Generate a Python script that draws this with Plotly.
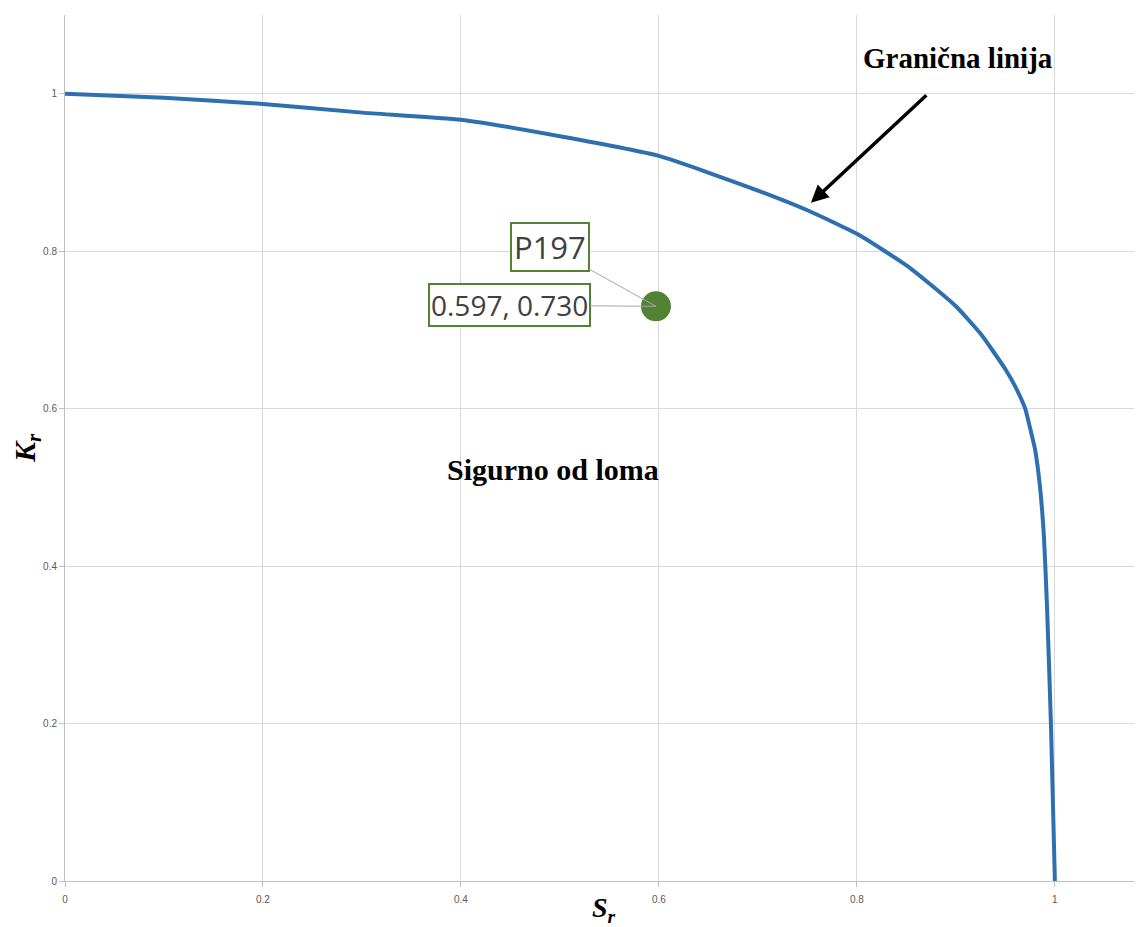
import plotly.graph_objects as go

# Boundary line (Granična linija)
sr_curve = [0, 0.1, 0.2, 0.3, 0.4, 0.5, 0.6, 0.7, 0.75, 0.8, 0.85, 0.875, 0.9, 0.925, 0.95, 0.96,
            0.97, 0.975, 0.98, 0.985, 0.989, 0.992, 0.996, 1.0]
kr_curve = [1.0, 0.995, 0.987, 0.976, 0.967, 0.946, 0.921, 0.877, 0.852, 0.822, 0.782, 0.757, 0.73, 0.695, 0.650, 0.628,
            0.600, 0.575, 0.548, 0.50, 0.436, 0.35, 0.2, 0.0]

# Assessed point
point_name = "P197"
point_sr = [0.597]
point_kr = [0.730]

x_ticks = [0, 0.2, 0.4, 0.6, 0.8, 1]
x_tick_labels = ["0", "0.2", "0.4", "0.6", "0.8", "1"]
y_ticks = [0, 0.2, 0.4, 0.6, 0.8, 1]
y_tick_labels = ["0", "0.2", "0.4", "0.6", "0.8", "1"]

GREEN = "#548235"
BLUE = "#2e6fb0"

fig = go.Figure()
fig.add_trace(go.Scatter(x=sr_curve, y=kr_curve, mode="lines",
                         line=dict(color=BLUE, width=4, shape="spline", smoothing=0.5),
                         showlegend=False, hoverinfo="skip"))
fig.add_trace(go.Scatter(x=point_sr, y=point_kr, mode="markers",
                         marker=dict(color=GREEN, size=30), showlegend=False))

# data labels
fig.add_annotation(x=point_sr[0], y=point_kr[0], text=point_name, showarrow=True,
                   ax=-106, ay=-59, arrowhead=0, arrowwidth=1, arrowcolor="#a6a6a6",
                   font=dict(family="Open Sans, Liberation Sans", size=31, color="#404040"),
                   bordercolor=GREEN, borderwidth=2, bgcolor="white", borderpad=2)
fig.add_annotation(x=point_sr[0], y=point_kr[0],
                   text=f"{point_sr[0]:.3f}, {point_kr[0]:.3f}", showarrow=True,
                   ax=-146, ay=-1, arrowhead=0, arrowwidth=1, arrowcolor="#a6a6a6",
                   font=dict(family="Open Sans, Liberation Sans", size=28, color="#404040"),
                   bordercolor=GREEN, borderwidth=2, bgcolor="white", borderpad=1)

# text labels
fig.add_annotation(x=0.902, y=1.046, text="<b>Granična linija</b>", showarrow=False,
                   font=dict(family="Liberation Serif, Times New Roman", size=29, color="black"))
fig.add_annotation(x=0.7535, y=0.8615, text="", showarrow=True, ax=117, ay=-109,
                   arrowhead=2, arrowsize=1, arrowwidth=3.5, arrowcolor="black")
fig.add_annotation(x=0.493, y=0.523, text="<b>Sigurno od loma</b>", showarrow=False,
                   font=dict(family="Liberation Serif, Times New Roman", size=30, color="black"))

axis_common = dict(showgrid=True, gridcolor="#d9d9d9", gridwidth=1,
                   showline=True, linecolor="#bfbfbf", linewidth=1,
                   ticks="outside", ticklen=5, tickcolor="#bfbfbf",
                   tickfont=dict(family="Liberation Sans, Arial", size=10, color="#595959"),
                   zeroline=False, fixedrange=True)

fig.update_xaxes(range=[0, 1.088], tickvals=x_ticks, ticktext=x_tick_labels,
                 ticklabelstandoff=4,
                 title=dict(text="<b><i>S<sub>r</sub></i></b>", standoff=0,
                            font=dict(family="Liberation Serif, Times New Roman", size=28, color="black")),
                 **axis_common)
fig.update_yaxes(range=[0, 1.1], tickvals=y_ticks, ticktext=y_tick_labels,
                 title=dict(text="<b><i>K<sub>r</sub></i></b>", standoff=12,
                            font=dict(family="Liberation Serif, Times New Roman", size=30, color="black")),
                 **axis_common)

# page body has an 8px margin, so the figure is offset; compensate
fig.update_layout(width=1134, height=919, plot_bgcolor="white", paper_bgcolor="white",
                  margin=dict(l=57, r=0, t=7, b=46), showlegend=False)

fig.write_html("out.html")
